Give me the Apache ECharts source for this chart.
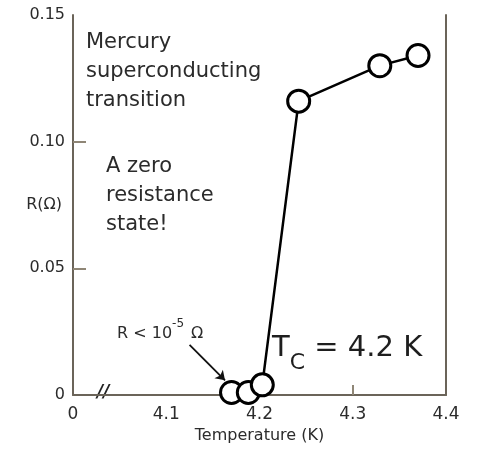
<!DOCTYPE html>
<html>
<head>
<meta charset="utf-8">
<script src="https://cdn.jsdelivr.net/npm/echarts@6/dist/echarts.min.js"></script>
<style>
  html, body { margin: 0; padding: 0; background: #fff; }
  #chart { width: 482px; height: 452px; }
</style>
</head>
<body>
<div id="chart"></div>
<script>
// Mercury resistance near the superconducting transition
const temperatureK = [4.170, 4.188, 4.203, 4.242, 4.329, 4.370];
const resistanceOhm = [0.001, 0.001, 0.004, 0.116, 0.130, 0.134];
const xTicks = [4.0, 4.1, 4.2, 4.3, 4.4];
const yTicks = [0, 0.05, 0.10, 0.15];
// Only the inner tick marks are drawn on the frame
const xTickMarks = [4.2, 4.3];
const yTickMarks = [0.05, 0.10];

const axisColor = '#6b6459';
const tickColor = '#8f8676';
const textColor = '#2b2b2b';
const font = 'DejaVu Sans';

const chart = echarts.init(document.getElementById('chart'));

chart.setOption({
  backgroundColor: '#ffffff',
  animation: false,
  grid: { left: 73, right: 36, top: 15, bottom: 57, containLabel: false, outerBoundsMode: 'none' },
  xAxis: {
    type: 'value',
    min: xTicks[0],
    max: xTicks[xTicks.length - 1],
    interval: 0.1,
    name: 'Temperature (K)',
    nameLocation: 'middle',
    nameGap: 33,
    nameMoveOverlap: false,
    nameTextStyle: { fontFamily: font, fontSize: 16, color: textColor },
    axisLine: { lineStyle: { color: axisColor, width: 2 } },
    axisTick: { inside: true, length: 10, customValues: xTickMarks, lineStyle: { color: tickColor, width: 2 } },
    axisLabel: {
      margin: 11,
      fontFamily: font, fontSize: 17, color: textColor,
      formatter: v => (Math.abs(v - xTicks[0]) < 1e-9 ? '0' : v.toFixed(1))
    },
    splitLine: { show: false }
  },
  yAxis: [{
    type: 'value',
    min: yTicks[0],
    max: yTicks[yTicks.length - 1],
    interval: 0.05,
    name: 'R(Ω)',
    nameLocation: 'middle',
    nameRotate: 0,
    nameGap: 11,
    nameMoveOverlap: false,
    nameTextStyle: { fontFamily: font, fontSize: 16, color: textColor, align: 'right' },
    axisLine: { show: true, lineStyle: { color: axisColor, width: 2 } },
    axisTick: { show: true, inside: true, length: 13, customValues: yTickMarks, lineStyle: { color: tickColor, width: 2 } },
    axisLabel: {
      margin: 8,
      fontFamily: font, fontSize: 16, color: textColor,
      formatter: v => (v === 0 ? '0' : v.toFixed(2))
    },
    splitLine: { show: false }
  }, {
    type: 'value',
    position: 'right',
    min: yTicks[0],
    max: yTicks[yTicks.length - 1],
    axisLine: { show: true, lineStyle: { color: axisColor, width: 2 } },
    axisTick: { show: false },
    axisLabel: { show: false },
    splitLine: { show: false }
  }],
  series: [{
    type: 'line',
    data: temperatureK.map((t, i) => [t, resistanceOhm[i]]),
    symbol: 'circle',
    symbolSize: 22,
    lineStyle: { color: '#000', width: 2.5 },
    itemStyle: { color: '#fff', borderColor: '#000', borderWidth: 3 },
    z: 5,
    markLine: {
      silent: true,
      symbol: ['none', 'arrow'],
      symbolSize: 9,
      label: { show: false },
      lineStyle: { color: '#111', width: 1.8, type: 'solid' },
      data: [[{ coord: [4.125, 0.0198] }, { coord: [4.163, 0.0058] }]]
    }
  }],
  graphic: [
    {
      type: 'text', left: 86, top: 28,
      style: {
        text: 'Mercury\nsuperconducting\ntransition',
        font: '21px "' + font + '"', fill: textColor, lineHeight: 29
      }
    },
    {
      type: 'text', left: 106, top: 152,
      style: {
        text: 'A zero\nresistance\nstate!',
        font: '21px "' + font + '"', fill: textColor, lineHeight: 29
      }
    },
    {
      type: 'text', left: 117, top: 318,
      style: {
        text: '{b|R < 10}{s|-5}{b| Ω}',
        fill: textColor,
        rich: {
          b: { fontFamily: font, fontSize: 16, color: textColor, verticalAlign: 'bottom', lineHeight: 24 },
          s: { fontFamily: font, fontSize: 12, color: textColor, verticalAlign: 'top', lineHeight: 24, padding: [0, 2, 10, 0] }
        }
      }
    },
    {
      type: 'text', left: 272, top: 334,
      style: {
        text: '{t|T}{c|C}{t| = 4.2 K}',
        fill: '#1e1e1e',
        rich: {
          t: { fontFamily: font, fontSize: 29, color: '#1e1e1e', verticalAlign: 'top', lineHeight: 40 },
          c: { fontFamily: font, fontSize: 22, color: '#1e1e1e', verticalAlign: 'bottom', lineHeight: 40, padding: [10, 0, 0, 0] }
        }
      }
    },
    {
      type: 'text', left: 97, top: 384,
      style: {
        text: '//',
        font: 'italic bold 17px "' + font + '"', fill: '#222'
      }
    }
  ]
});
</script>
</body>
</html>
